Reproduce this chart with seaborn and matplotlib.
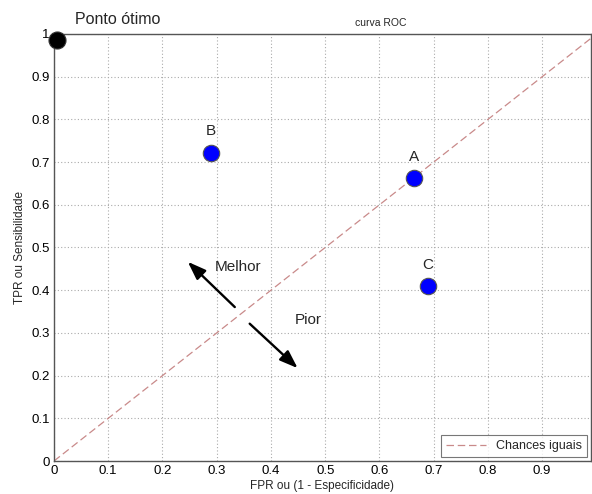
import matplotlib
matplotlib.use("Agg")
import matplotlib.pyplot as plt
import seaborn as sns
import pandas as pd
import numpy as np

sns.set_style("white")
plt.rcParams['font.family'] = ['Liberation Sans', 'DejaVu Sans']

# data
point_labels = ["B", "A", "C"]
fpr = [0.29, 0.663, 0.689]
tpr = [0.722, 0.663, 0.41]
optimal_fpr = [0.005]
optimal_tpr = [0.986]
diag = [0.0, 1.0]
xticks = [0, 0.1, 0.2, 0.3, 0.4, 0.5, 0.6, 0.7, 0.8, 0.9]
yticks = [0, 0.1, 0.2, 0.3, 0.4, 0.5, 0.6, 0.7, 0.8, 0.9, 1]

fig = plt.figure(figsize=(5.92, 4.94), dpi=100)
ax = fig.add_axes([54/592, 33/494, (591-54)/592, (461-34)/494])

sns.lineplot(x=diag, y=diag, ax=ax, color="#c98a8a", linestyle=(0, (6, 3)),
             linewidth=0.9, label="Chances iguais")
df = pd.DataFrame({"fpr": fpr, "tpr": tpr, "lab": point_labels})
sns.scatterplot(data=df, x="fpr", y="tpr", ax=ax, s=140, color="#0000ff",
                edgecolor="#555555", linewidth=0.8, zorder=5, legend=False, clip_on=False)
sns.scatterplot(x=optimal_fpr, y=optimal_tpr, ax=ax, s=150, color="black",
                edgecolor="#333333", linewidth=0.8, zorder=5, legend=False, clip_on=False)

for lab, x, y in zip(point_labels, fpr, tpr):
    ax.text(x, y + 0.05, lab, ha="center", va="center", fontsize=11)
ax.text(0.038, 1.035, "Ponto ótimo", ha="left", va="center", fontsize=11.5,
        transform=ax.transData, clip_on=False)
ax.set_title("curva ROC", fontsize=7.5, pad=6, x=0.608)

ax.annotate("", xy=(0.243, 0.471), xytext=(0.337, 0.356),
            arrowprops=dict(arrowstyle="-|>,head_length=1.1,head_width=0.4", color="black", lw=1.7))
ax.annotate("", xy=(0.453, 0.213), xytext=(0.357, 0.326),
            arrowprops=dict(arrowstyle="-|>,head_length=1.1,head_width=0.4", color="black", lw=1.7))
ax.text(0.34, 0.454, "Melhor", ha="center", va="center", fontsize=11)
ax.text(0.468, 0.33, "Pior", ha="center", va="center", fontsize=11)

ax.set_xlim(0, 0.99)
ax.set_ylim(0, 1)
ax.set_xticks(xticks)
ax.set_yticks(yticks)
ax.set_xticklabels([f"{v:g}" for v in xticks])
ax.set_yticklabels([f"{v:g}" for v in yticks])
ax.tick_params(direction="in", length=4, labelsize=9.5, colors="#333333", labelcolor="black", pad=3)
ax.grid(True, linestyle=(0, (1, 2)), color="#aaaaaa", linewidth=0.8)
for s in ax.spines.values():
    s.set_color("#555555")
    s.set_linewidth(1.0)
ax.set_xlabel("FPR ou (1 - Especificidade)", fontsize=8.5, labelpad=2)
ax.set_ylabel("TPR ou Sensibilidade", fontsize=8.5, labelpad=4)
leg = ax.legend(loc="lower right", fontsize=9, frameon=True, fancybox=False,
                edgecolor="#555555", borderaxespad=0.3, handlelength=3.2)
leg.get_frame().set_linewidth(0.8)

fig.savefig("out.png", dpi=100)
